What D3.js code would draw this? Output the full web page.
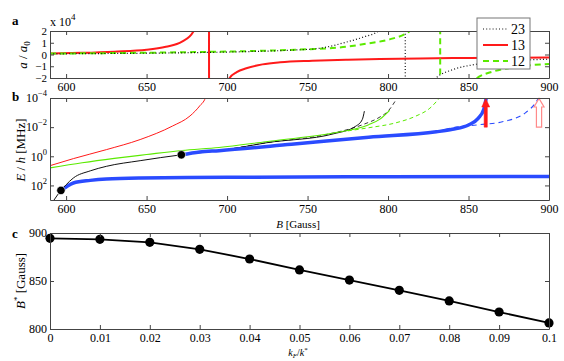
<!DOCTYPE html>
<html>
<head>
<meta charset="utf-8">
<script src="https://cdn.jsdelivr.net/npm/d3@7"></script>
<style>
    body { margin: 0; background: #fff; }
    svg text { font-family: "Liberation Serif", "Times New Roman", serif; }
</style>
</head>
<body>
<svg id="fig" width="564" height="361"></svg>
<script>
// ---- panel a: scattering lengths, in units of 10^4 a0, vs B [G] ----
const bTicks = [600, 650, 700, 750, 800, 850, 900];
const aTicks = [-2, -1, 0, 1, 2];
const legendKeys = ['23', '13', '12'];

const a23 = [[590, 0.05], [620, 0.08], [650, 0.11], [680, 0.16], [710, 0.24], [740, 0.37], [757, 0.52],
    [774, 1.05], [785, 1.5], [794, 2.0], [802, 3.5], [810.6, 40], [810.8, -40], [822, -3.2], [830.7, -1.89],
    [840, -1.3], [854.5, -0.84], [870, -0.6], [885, -0.47], [900, -0.4]];
const a13 = [[590, 0.08], [610, 0.14], [630, 0.24], [650, 0.4], [662, 0.66], [672, 1.09], [679, 1.94],
    [684, 4], [688.7, 40], [688.9, -40], [696, -4], [701.6, -2.0], [706, -1.5], [712, -1.17], [722, -0.84],
    [733, -0.66], [753, -0.53], [775, -0.44], [795, -0.38], [820, -0.33], [850, -0.29], [880, -0.27], [900, -0.26]];
const a12 = [[590, 0.08], [620, 0.11], [650, 0.15], [673, 0.19], [700, 0.25], [725, 0.33], [749, 0.44],
    [774, 0.66], [788, 0.95], [801, 1.29], [813, 1.94], [820, 2.8], [827, 5.5], [832.3, 40], [832.5, -40],
    [845, -3.5], [856.6, -1.89], [865, -1.46], [880, -1.05], [900, -0.8]];

// ---- panel b: binding energies E/h [MHz] vs B [G] ----
const eExps = [-4, -2, 0, 2];
const e13 = [[590, 4.4], [604.5, 1.45], [625, 0.35], [646, 0.071], [666, 0.0085], [677, 0.0017],
    [683, 0.00035], [686.5, 0.0001], [688, 0.00003]];
const e12 = [[590, 6.3], [610, 2.8], [630, 1.4], [650, 0.76], [672, 0.4], [695, 0.25], [724, 0.1],
    [766, 0.025], [780, 0.013], [788, 0.0068], [795, 0.0028], [801, 0.0007]];
const e12Dash = [[775, 0.018], [788, 0.011], [805, 0.005], [817, 0.0018], [826, 0.0005], [832, 0.0001]];
const e23 = [[592.5, 1000], [596.8, 219], [600, 90], [604.5, 31], [615, 10], [625, 4.9], [646, 2.0],
    [671.6, 0.79], [700, 0.35], [724, 0.12], [766, 0.029], [780, 0.0085], [784, 0.003], [785.3, 0.0008]];
const e23Dash = [[700, 0.35], [724, 0.12], [760, 0.035], [785, 0.0063], [795, 0.002], [800, 0.0008], [805, 0.00013]];
const trimerUpper = [[671.6, 0.79], [683, 0.5], [695, 0.41], [740, 0.15], [788, 0.049], [830, 0.021],
    [840, 0.014], [850, 0.0071], [856, 0.0025], [859.5, 0.0006], [861, 0.0001]];
const trimerDash = [[830, 0.021], [840, 0.0112], [855, 0.0071], [871, 0.0043], [885.5, 0.001],
    [891.7, 0.00021], [893.5, 0.0001]];
const trimerLower = [[596.8, 219], [600, 126], [604.5, 68], [615, 45], [625, 36], [646, 31], [700, 28],
    [800, 25], [900, 24]];
const dots = [[596.8, 219], [671.6, 0.79]];
const arrows = [[860.7, 0.01, 0.0001], [893.8, 0.01, 0.0001]]; // B, from, to

// ---- panel c: B* [G] vs kF/k* ----
const kf = [0, 0.01, 0.02, 0.03, 0.04, 0.05, 0.06, 0.07, 0.08, 0.09, 0.1];
const bStar = [894.5, 893.4, 890.3, 883, 872.9, 861.5, 851, 840.3, 829.2, 817.7, 806.3];
const bStarTicks = [800, 850, 900];

const RED = '#ff1a1a', GREEN = '#5bea00', BLUE = '#2a4bff', SPINE = '#444';
const L = 50, R = 549;

const svg = d3.select('#fig');

const x = d3.scaleLinear().domain([590, 900]).range([L, R]);
const ya = d3.scaleLinear().domain([-2, 2]).range([78, 31]);
const yb = d3.scaleLog().domain([1e-4, 1e3]).range([98, 200]);
const xc = d3.scaleLinear().domain([0, 0.1]).range([L, R]);
const yc = d3.scaleLinear().domain([800, 900]).range([329, 233]);

const ext = (s) => [Math.min(...s.range()), Math.max(...s.range())];

// box with inward ticks on all four sides
function frame(xs, ys, xt, yt, opts) {
    const g = svg.append('g');
    const [top, bottom] = ext(ys);
    const [left, right] = ext(xs);
    const style = (sel) => {
        sel.selectAll('path, line').attr('stroke', SPINE);
        sel.attr('font-size', 12).attr('font-family', null);
    };
    const axes = {};
    axes.bottom = g.append('g').attr('transform', `translate(0,${bottom})`)
        .call(d3.axisBottom(xs).tickValues(xt).tickSize(-4).tickSizeOuter(0).tickPadding(4)
            .tickFormat(opts.xfmt || null))
        .call(style);
    g.append('g').attr('transform', `translate(0,${top})`)
        .call(d3.axisTop(xs).tickValues(xt).tickSize(-4).tickSizeOuter(0).tickFormat(''))
        .call(style);
    axes.left = g.append('g').attr('transform', `translate(${left},0)`)
        .call(d3.axisLeft(ys).tickValues(yt).tickSize(-4).tickSizeOuter(0).tickPadding(3)
            .tickFormat(opts.yfmt || null))
        .call(style);
    g.append('g').attr('transform', `translate(${right},0)`)
        .call(d3.axisRight(ys).tickValues(yt).tickSize(-4).tickSizeOuter(0).tickFormat(''))
        .call(style);
    return axes;
}

function clip(id, xs, ys) {
    const [top, bottom] = ext(ys);
    const [left, right] = ext(xs);
    svg.append('clipPath').attr('id', id).append('rect')
        .attr('x', left).attr('y', top).attr('width', right - left).attr('height', bottom - top);
    return svg.append('g').attr('clip-path', `url(#${id})`);
}

// ================= panel a =================
const pa = clip('clipA', x, ya);
const lineA = d3.line().x((d) => x(d[0])).y((d) => ya(d[1])).curve(d3.curveMonotoneX);
pa.append('path').attr('d', lineA(a13)).attr('fill', 'none').attr('stroke', RED).attr('stroke-width', 2);
pa.append('path').attr('d', lineA(a12)).attr('fill', 'none').attr('stroke', GREEN).attr('stroke-width', 2)
    .attr('stroke-dasharray', '6,4');
pa.append('path').attr('d', lineA(a23)).attr('fill', 'none').attr('stroke', '#111').attr('stroke-width', 1.2)
    .attr('stroke-dasharray', '1,2.2');

const fa = frame(x, ya, bTicks, aTicks, { yfmt: (d) => (d < 0 ? '\u2212' + Math.abs(d) : d) });
fa.left.attr('font-size', 11);

svg.append('text').attr('x', 50).attr('y', 26).attr('font-size', 12).text('x 10')
    .append('tspan').attr('dy', -6).attr('font-size', 9).text('4');

// legend
const leg = svg.append('g');
leg.append('rect').attr('x', 477).attr('y', 18).attr('width', 53).attr('height', 51)
    .attr('fill', '#fff').attr('stroke', '#777').attr('stroke-width', 1);
const legStyle = [
    { stroke: '#111', w: 1.2, dash: '1,2.2' },
    { stroke: RED, w: 2, dash: null },
    { stroke: GREEN, w: 2, dash: '6,4' }
];
legendKeys.forEach((k, i) => {
    const yy = 29 + i * 16;
    leg.append('line').attr('x1', 483).attr('x2', 508).attr('y1', yy).attr('y2', yy)
        .attr('stroke', legStyle[i].stroke).attr('stroke-width', legStyle[i].w)
        .attr('stroke-dasharray', legStyle[i].dash);
    leg.append('text').attr('x', 511).attr('y', yy + 5).attr('font-size', 14).text(k);
});

// ================= panel b =================
const pb = clip('clipB', x, yb);
const lineB = d3.line().x((d) => x(d[0])).y((d) => yb(d[1])).curve(d3.curveMonotoneX);
const drawB = (data, color, w, dash) =>
    pb.append('path').attr('d', lineB(data)).attr('fill', 'none').attr('stroke', color)
        .attr('stroke-width', w).attr('stroke-dasharray', dash || null);

drawB(trimerLower, BLUE, 3.5);
drawB(e23Dash, '#222', 0.9, '4,3');
drawB(e23, '#111', 1);
drawB(e12Dash, GREEN, 1, '4,3');
drawB(e12, GREEN, 1.1);
drawB(e13, RED, 1);
drawB(trimerDash, BLUE, 1.1, '5,4');
drawB(trimerUpper, BLUE, 3.5);

pb.selectAll('circle.dot').data(dots).enter().append('circle')
    .attr('cx', (d) => x(d[0])).attr('cy', (d) => yb(d[1])).attr('r', 4.2)
    .attr('fill', '#000').attr('stroke', '#fff').attr('stroke-width', 0.6);

// arrows: filled red, hollow pink
arrows.forEach((a, i) => {
    const cx = x(a[0]), yFrom = yb(a[1]), yTo = yb(a[2]);
    const sw = i === 0 ? 1.6 : 2.6, hw = i === 0 ? 4 : 5, hh = 9;
    const pts = [[cx - sw, yFrom], [cx - sw, yTo + hh], [cx - hw, yTo + hh], [cx, yTo + 0.5],
        [cx + hw, yTo + hh], [cx + sw, yTo + hh], [cx + sw, yFrom]];
    svg.append('polygon').attr('points', pts.map((p) => p.join(',')).join(' '))
        .attr('fill', i === 0 ? RED : '#fff')
        .attr('stroke', i === 0 ? RED : '#ff8a8a').attr('stroke-width', i === 0 ? 0.5 : 1.2);
});

const fb = frame(x, yb, bTicks, eExps.map((e) => Math.pow(10, e)), {});
fb.left.selectAll('.tick text').each(function (d) {
    const e = Math.round(Math.log10(d));
    const t = d3.select(this).text('');
    t.append('tspan').text('10');
    t.append('tspan').attr('dy', -6).attr('font-size', 8.5).text(e < 0 ? '\u2212' + Math.abs(e) : e);
});

svg.append('text').attr('x', 298).attr('y', 228).attr('text-anchor', 'middle').attr('font-size', 11)
    .call((t) => {
        t.append('tspan').attr('font-style', 'italic').text('B');
        t.append('tspan').text(' [Gauss]');
    });

// ================= panel c =================
const lineC = d3.line().x((d) => xc(d[0])).y((d) => yc(d[1]));
const cData = kf.map((k, i) => [k, bStar[i]]);
svg.append('path').attr('d', lineC(cData)).attr('fill', 'none').attr('stroke', '#000').attr('stroke-width', 1.8);
svg.selectAll('circle.pc').data(cData).enter().append('circle')
    .attr('cx', (d) => xc(d[0])).attr('cy', (d) => yc(d[1])).attr('r', 4.6).attr('fill', '#000');

frame(xc, yc, kf, bStarTicks, { xfmt: (d) => String(+d.toFixed(2)) });

svg.append('text').attr('x', 298).attr('y', 356).attr('text-anchor', 'middle').attr('font-size', 10)
    .call((t) => {
        t.append('tspan').attr('font-style', 'italic').text('k');
        t.append('tspan').attr('font-style', 'italic').attr('font-size', 7).attr('dy', 2).text('F');
        t.append('tspan').attr('dy', -2).text('/');
        t.append('tspan').attr('font-style', 'italic').text('k');
        t.append('tspan').attr('font-size', 7).attr('dy', -4).text('*');
    });

// ================= panel letters and y labels =================
[['a', 25], ['b', 101], ['c', 238]].forEach(([s, yy]) =>
    svg.append('text').attr('x', 12).attr('y', yy).attr('font-weight', 'bold').attr('font-size', 13).text(s));

function yLabel(cx, cy, build) {
    const t = svg.append('text').attr('transform', `translate(${cx},${cy}) rotate(-90)`)
        .attr('text-anchor', 'middle').attr('font-size', 13);
    build(t);
}
yLabel(27, 55, (t) => {
    t.append('tspan').attr('font-style', 'italic').text('a');
    t.append('tspan').text(' / ');
    t.append('tspan').attr('font-style', 'italic').text('a');
    t.append('tspan').attr('font-size', 9).attr('dy', 3).text('0');
});
yLabel(25, 150, (t) => {
    t.append('tspan').attr('font-style', 'italic').text('E');
    t.append('tspan').text(' / ');
    t.append('tspan').attr('font-style', 'italic').text('h');
    t.append('tspan').text(' [MHz]');
});
yLabel(25, 281, (t) => {
    t.append('tspan').attr('font-style', 'italic').text('B');
    t.append('tspan').attr('font-size', 9).attr('dy', -5).text('*');
    t.append('tspan').attr('dy', 5).text(' [Gauss]');
});
</script>
</body>
</html>
